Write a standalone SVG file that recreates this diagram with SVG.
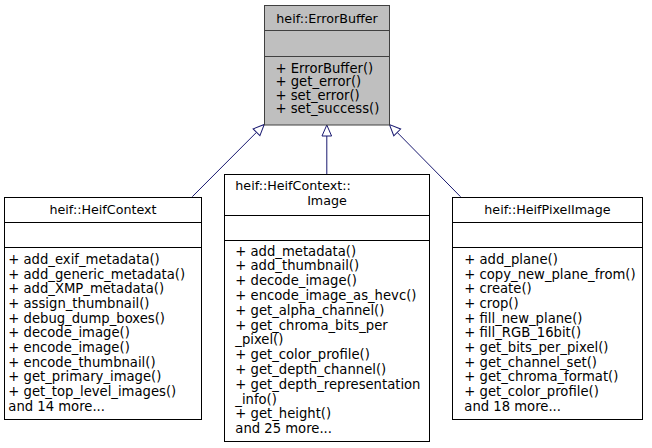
<svg xmlns="http://www.w3.org/2000/svg" width="652" height="448" viewBox="0 0 652 448">
<style>
text{font-family:"DejaVu Sans","Liberation Sans",sans-serif;font-size:13.2px;fill:#000}
.t{font-size:12.7px}
.c{text-anchor:middle}
.box{fill:#fff;stroke:#000;stroke-width:1}
.base{fill:#bfbfbf;stroke:#404040;stroke-width:1}
.e{fill:none;stroke:#191970;stroke-width:1}
</style>
<defs>
<marker id="inh" markerUnits="userSpaceOnUse" markerWidth="14" markerHeight="12" refX="0" refY="6" orient="auto" viewBox="-1 0 14 12" overflow="visible">
<path d="M0,1.2 L11,6 L0,10.8 Z" fill="#fff" stroke="#191970" stroke-width="1"/>
</marker>
</defs>
<rect width="652" height="448" fill="#fff"/>
<g id="connectors">
<path class="e" d="M192.3,196.7 L256.5,132.3" marker-end="url(#inh)"/>
<path class="e" d="M326.8,174 L326.8,136" marker-end="url(#inh)"/>
<path class="e" d="M460.5,196.7 L397.2,132.4" marker-end="url(#inh)"/>
</g>
<g id="ErrorBuffer">
<rect class="base" x="264.5" y="5.5" width="125" height="119.5"/>
<line class="base" x1="264.5" y1="30.5" x2="389.5" y2="30.5"/>
<line class="base" x1="264.5" y1="56.5" x2="389.5" y2="56.5"/>
<text class="c t" x="327" y="22.5">heif::ErrorBuffer</text>
<text x="275.5" y="72.5">+ ErrorBuffer()</text>
<text x="275.5" y="86">+ get_error()</text>
<text x="275.5" y="99.5">+ set_error()</text>
<text x="275.5" y="113">+ set_success()</text>
</g>
<g id="HeifContext">
<rect class="box" x="4.5" y="197.5" width="197" height="222"/>
<line class="box" x1="4.5" y1="222.5" x2="201.5" y2="222.5"/>
<line class="box" x1="4.5" y1="247.5" x2="201.5" y2="247.5"/>
<text class="c t" x="103" y="213.5">heif::HeifContext</text>
<text x="8.3" y="264">+ add_exif_metadata()</text>
<text x="8.3" y="278.7">+ add_generic_metadata()</text>
<text x="8.3" y="293.3">+ add_XMP_metadata()</text>
<text x="8.3" y="308">+ assign_thumbnail()</text>
<text x="8.3" y="322.7">+ debug_dump_boxes()</text>
<text x="8.3" y="337.4">+ decode_image()</text>
<text x="8.3" y="352">+ encode_image()</text>
<text x="8.3" y="366.7">+ encode_thumbnail()</text>
<text x="8.3" y="381.4">+ get_primary_image()</text>
<text x="8.3" y="396">+ get_top_level_images()</text>
<text x="8.3" y="410.7">and 14 more...</text>
</g>
<g id="HeifContextImage">
<rect class="box" x="224.5" y="174.5" width="205" height="267"/>
<line class="box" x1="224.5" y1="215.5" x2="429.5" y2="215.5"/>
<line class="box" x1="224.5" y1="240.5" x2="429.5" y2="240.5"/>
<text class="t" x="235.3" y="190">heif::HeifContext::</text>
<text class="c t" x="327" y="205">Image</text>
<text x="235.3" y="255.5">+ add_metadata()</text>
<text x="235.3" y="270.3">+ add_thumbnail()</text>
<text x="235.3" y="285.1">+ decode_image()</text>
<text x="235.3" y="299.9">+ encode_image_as_hevc()</text>
<text x="235.3" y="314.7">+ get_alpha_channel()</text>
<text x="235.3" y="329.5">+ get_chroma_bits_per</text>
<text x="235.3" y="344.3">_pixel()</text>
<text x="235.3" y="359.1">+ get_color_profile()</text>
<text x="235.3" y="373.9">+ get_depth_channel()</text>
<text x="235.3" y="388.7">+ get_depth_representation</text>
<text x="235.3" y="403.5">_info()</text>
<text x="235.3" y="418.3">+ get_height()</text>
<text x="235.3" y="433.1">and 25 more...</text>
</g>
<g id="HeifPixelImage">
<rect class="box" x="452.5" y="197.5" width="190" height="222"/>
<line class="box" x1="452.5" y1="222.5" x2="642.5" y2="222.5"/>
<line class="box" x1="452.5" y1="247.5" x2="642.5" y2="247.5"/>
<text class="c t" x="547.5" y="213.5">heif::HeifPixelImage</text>
<text x="464.3" y="264">+ add_plane()</text>
<text x="464.3" y="278.7">+ copy_new_plane_from()</text>
<text x="464.3" y="293.3">+ create()</text>
<text x="464.3" y="308">+ crop()</text>
<text x="464.3" y="322.7">+ fill_new_plane()</text>
<text x="464.3" y="337.4">+ fill_RGB_16bit()</text>
<text x="464.3" y="352">+ get_bits_per_pixel()</text>
<text x="464.3" y="366.7">+ get_channel_set()</text>
<text x="464.3" y="381.4">+ get_chroma_format()</text>
<text x="464.3" y="396">+ get_color_profile()</text>
<text x="464.3" y="410.7">and 18 more...</text>
</g>
</svg>
